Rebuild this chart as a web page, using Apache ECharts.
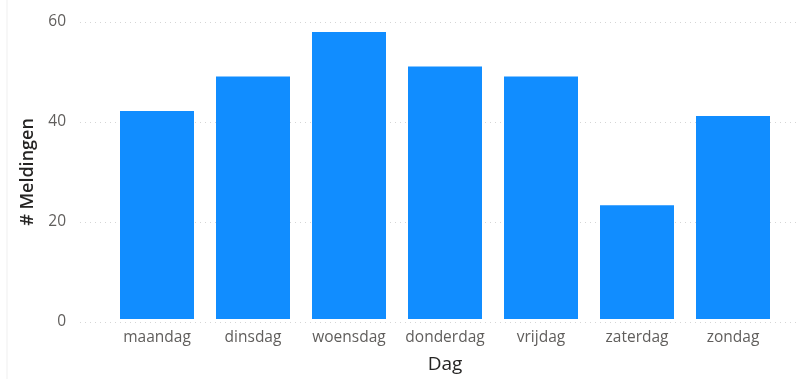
<!DOCTYPE html>
<html><head><meta charset="utf-8">
<script src="https://cdn.jsdelivr.net/npm/echarts@6/dist/echarts.min.js"></script>
<style>html,body{margin:0;padding:0;background:#fff}#c{width:796px;height:379px}</style>
</head><body><div id="c"></div>
<script>
const categories = ["maandag","dinsdag","woensdag","donderdag","vrijdag","zaterdag","zondag"];
const meldingen = [42, 49, 58, 51, 49, 23, 41];
const yTicks = [0, 20, 40, 60];

const chart = echarts.init(document.getElementById('c'), null, {renderer:'canvas'});
const font = '"Open Sans", "Noto Sans", sans-serif';
chart.setOption({
  animation: false,
  grid: [
    {left: 109, right: 15, top: 22, bottom: 57},
    {left: 80, right: 0, top: 22, bottom: 57}
  ],
  xAxis: [
    {type: 'category', gridIndex: 0, data: categories,
     axisLine: {show: false}, axisTick: {show: false},
     axisLabel: {color: '#605E5C', fontSize: 15.5, fontFamily: font, margin: 11, interval: 0},
     name: 'Dag', nameLocation: 'middle', nameGap: 36,
     nameTextStyle: {color: '#252423', fontSize: 19, fontFamily: font}},
    {type: 'value', gridIndex: 1, show: false, min: 0, max: 1}
  ],
  yAxis: [
    {type: 'value', gridIndex: 0, min: 0, max: 60, interval: 20, show: false},
    {type: 'value', gridIndex: 1, min: yTicks[0], max: yTicks[yTicks.length-1], interval: 20,
     axisLine: {show: false}, axisTick: {show: false},
     axisLabel: {color: '#605E5C', fontSize: 15.5, fontFamily: font, margin: 14},
     splitLine: {show: true, lineStyle: {color: '#d6d6d6', type: [1, 4], width: 1}},
     name: '# Meldingen', nameLocation: 'middle', nameGap: 41,
     nameTextStyle: {color: '#252423', fontSize: 18, fontWeight: 600, fontFamily: font}}
  ],
  series: [{
    type: 'bar', xAxisIndex: 0, yAxisIndex: 0, data: meldingen,
    barWidth: 74, itemStyle: {color: '#118DFF'}
  }],
  graphic: [{type: 'line', shape: {x1: 7, y1: 0, x2: 7, y2: 379}, style: {stroke: '#efefef', lineWidth: 1}}]
});
</script></body></html>
